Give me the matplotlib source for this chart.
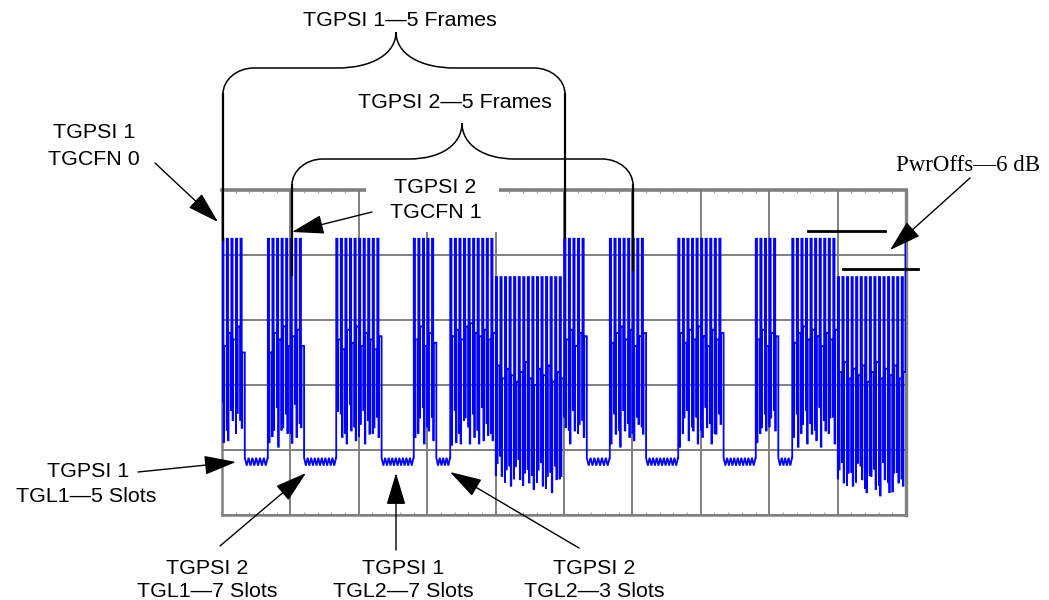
import numpy as np
import matplotlib.pyplot as plt
from matplotlib.path import Path
from matplotlib.patches import PathPatch, Rectangle, FancyArrowPatch

# power levels in screen divisions (0 = bottom line of the scope screen)
full_level = 4.25
offset_level = 3.66
gap_hi, gap_lo = 0.88, 0.76

slots_per_frame = 15
n_frames = 10
offset_frames = [4, 9]          # frames sent with PwrOffs applied

# transmission gaps (first slot, number of slots)
gap_start = [5, 18, 35, 47, 80, 93, 110, 122]
gap_len = [5, 7, 7, 3, 5, 7, 7, 3]

# depth of the falling stroke in every transmitted slot, one list per burst
deep_lows = [
    [1.12, 1.15, 1.46, 1.57, 1.34],
    [1.12, 1.31, 1.05, 1.35, 1.26, 1.11, 1.20, 1.35],
    [1.60, 1.20, 1.10, 1.30, 1.15, 1.40, 1.10, 1.25, 1.35, 1.20],
    [1.20, 1.50, 1.10, 1.30, 1.15],
    [1.08, 1.12, 1.10, 1.50, 1.10, 1.20, 1.10, 1.15, 1.23, 1.15,
     0.80, 0.60, 0.70, 0.45, 0.75, 0.55, 0.65, 0.50, 0.40, 0.70, 0.45, 0.60, 0.35, 0.55, 0.60],
    [1.35, 1.10, 1.30, 1.40, 1.20],
    [1.10, 1.25, 1.05, 1.30, 1.20, 1.15, 1.40, 1.25],
    [1.05, 1.50, 1.15, 1.30, 1.10, 1.20, 1.35, 1.10, 1.25, 1.40],
    [1.12, 1.35, 1.30, 1.50, 1.30],
    [1.20, 1.05, 1.40, 1.10, 1.25, 1.15, 1.05, 1.30, 1.50, 1.10,
     0.70, 0.50, 0.65, 0.45, 0.80, 0.55, 0.35, 0.60, 0.40, 0.30, 0.55, 0.35, 0.65, 0.50, 0.45],
]
# depth of the rising stroke in every transmitted slot
rise_lows = [
    [1.75, 1.30, 1.60, 1.25, 1.45],
    [1.45, 1.20, 1.65, 1.30, 1.55, 1.25, 1.70, 1.40],
    [1.30, 1.55, 1.25, 1.70, 1.35, 1.20, 1.60, 1.45, 1.25, 1.50],
    [1.40, 1.25, 1.65, 1.35, 1.50],
    [1.30, 1.60, 1.25, 1.45, 1.35, 1.55, 1.30, 1.65, 1.40, 1.25,
     0.60, 0.90, 0.50, 0.75, 0.55, 0.85, 0.45, 0.70, 0.60, 0.50, 0.80, 0.40, 0.65, 0.75, 0.55],
    [1.50, 1.30, 1.60, 1.25, 1.45],
    [1.35, 1.55, 1.30, 1.60, 1.40, 1.25, 1.50, 1.35],
    [1.40, 1.25, 1.60, 1.35, 1.50, 1.30, 1.65, 1.40, 1.25, 1.55],
    [1.45, 1.25, 1.55, 1.35, 1.60],
    [1.35, 1.55, 1.25, 1.60, 1.40, 1.30, 1.65, 1.45, 1.25, 1.50,
     0.55, 0.80, 0.45, 0.65, 0.50, 0.75, 0.40, 0.60, 0.70, 0.45, 0.80, 0.50, 0.35, 0.65, 0.55],
]
# level where the trace settles between strokes
shallow_lows = [
    [2.60, 2.80, 2.70, 2.90, 2.50],
    [2.50, 2.80, 2.70, 2.90, 2.60, 2.75, 2.85, 2.60],
    [2.70, 2.55, 2.85, 2.65, 2.90, 2.60, 2.80, 2.70, 2.55, 2.75],
    [2.70, 2.90, 2.60, 2.80, 2.65],
    [2.75, 2.85, 2.70, 2.90, 2.95, 2.80, 2.75, 2.85, 2.70, 2.80,
     2.30, 2.10, 2.25, 2.15, 2.05, 2.20, 2.35, 2.10, 2.00, 2.25, 2.15, 2.30, 2.05, 2.20, 2.10],
    [2.70, 2.85, 2.60, 2.80, 2.75],
    [2.65, 2.80, 2.90, 2.70, 2.85, 2.60, 2.75, 2.80],
    [2.80, 2.65, 2.85, 2.70, 2.90, 2.75, 2.60, 2.85, 2.70, 2.80],
    [2.70, 2.85, 2.60, 2.80, 2.75],
    [2.65, 2.80, 2.90, 2.70, 2.85, 2.75, 2.60, 2.80, 2.70, 2.85,
     2.20, 2.35, 2.10, 2.25, 2.15, 2.30, 2.05, 2.20, 2.35, 2.10, 2.25, 2.15, 2.30, 2.10, 2.20],
]

W, H = 1049, 600
blue = "#0000ff"
grid_gray = "#808080"
font = "Liberation Sans"


def build_trace():
    n_slots = slots_per_frame * n_frames
    deep = np.concatenate(deep_lows)
    rise = np.concatenate(rise_lows)
    shallow = np.concatenate(shallow_lows)
    xs, ys = [], []
    s, k = 0, 0
    while s < n_slots:
        if s in gap_start:
            n = gap_len[gap_start.index(s)]
            teeth = np.linspace(s, s + n, 2 * round(1.25 * n) + 1)
            xs += list(teeth)
            ys += [gap_hi if i % 2 == 0 else gap_lo for i in range(len(teeth))]
            s += n
            continue
        top = offset_level if s // slots_per_frame in offset_frames else full_level
        d, r, h = deep[k], rise[k], shallow[k]
        start = ys[-1] if ys else r
        a, b, c = s + 0.05, s + 0.32, s + 0.44
        xs += [a, a, a, b, b, c, c, s + 1]
        ys += [start, min(r, start), top, top, d, d, h, h]
        s += 1
        k += 1
    # last stroke at the right edge of the screen
    xs += [n_slots - 0.12, n_slots - 0.12]
    ys += [ys[-1], full_level]
    return np.array(xs), np.array(ys)


fig = plt.figure(figsize=(W / 100, H / 100), dpi=100)

# scope screen
ax = fig.add_axes([222 / W, (H - 515) / H, 684 / W, 325 / H])
x, y = build_trace()
ax.plot(x, y, color=blue, lw=1.3, solid_joinstyle="miter", zorder=3)
ax.set_xlim(0, slots_per_frame * n_frames)
ax.set_ylim(0, 5)
ax.set_xticks(np.arange(0, slots_per_frame * n_frames + 1, slots_per_frame))
ax.set_yticks(np.arange(0, 6))
ax.set_xticks(np.arange(0, slots_per_frame * n_frames + 1, 3), minor=True)
ax.grid(True, which="major", color=grid_gray, lw=1.4, zorder=1)
ax.tick_params(which="major", length=0, labelbottom=False, labelleft=False)
ax.tick_params(which="minor", direction="in", length=2.5, width=0.8, color="#a0a0a0",
               top=True, bottom=True, labelbottom=False)
for side, lw in [("top", 2.6), ("right", 2.4), ("left", 1.8), ("bottom", 1.8)]:
    ax.spines[side].set_color(grid_gray)
    ax.spines[side].set_linewidth(lw)

# annotation layer in pixel coordinates
ov = fig.add_axes([0, 0, 1, 1])
ov.set_xlim(0, W)
ov.set_ylim(H, 0)
ov.set_facecolor("none")
ov.axis("off")

# white box behind the TGCFN 1 label breaks the top border
ov.add_patch(Rectangle((366, 168), 133, 64, facecolor="white", edgecolor="none", zorder=1))


def brace(x_l, x_r, y_h, x_tip, y_tip, half, leg_l, leg_r, r=(31, 26)):
    rx, ry = r
    k = 0.55
    verts = [
        (x_l, y_h + ry), (x_l, y_h + ry * (1 - k)), (x_l + rx * (1 - k), y_h), (x_l + rx, y_h),
        (x_tip - half, y_h),
        (x_tip - half * 0.4, y_h), (x_tip, y_h - (y_h - y_tip) * 0.4), (x_tip, y_tip),
        (x_tip, y_h - (y_h - y_tip) * 0.4), (x_tip + half * 0.4, y_h), (x_tip + half, y_h),
        (x_r - rx, y_h),
        (x_r - rx * (1 - k), y_h), (x_r, y_h + ry * (1 - k)), (x_r, y_h + ry),
    ]
    codes = [Path.MOVETO, Path.CURVE4, Path.CURVE4, Path.CURVE4, Path.LINETO,
             Path.CURVE4, Path.CURVE4, Path.CURVE4, Path.CURVE4, Path.CURVE4, Path.CURVE4,
             Path.LINETO, Path.CURVE4, Path.CURVE4, Path.CURVE4]
    ov.add_patch(PathPatch(Path(verts, codes), facecolor="none", edgecolor="black",
                           lw=1.1, zorder=5))
    ov.plot([x_l, x_l], [y_h + ry, leg_l], color="black", lw=1.6, zorder=5)
    ov.plot([x_r, x_r], [y_h + ry, leg_r], color="black", lw=1.6, zorder=5)


brace(223, 565, 68, 396, 32, 59, 240, 238)
brace(292, 633, 159, 462, 123, 53, 275, 270)


def arrow(tail, tip):
    ov.add_patch(FancyArrowPatch(tail, tip, arrowstyle="-|>,head_length=20,head_width=6",
                                 mutation_scale=1, lw=1.0, color="black",
                                 shrinkA=0, shrinkB=0, zorder=6))


def label(xc, yc, txt, size=15.4, family=font):
    # yc is the middle of the capitals
    cap = 0.716 * size * 100 / 72
    ov.text(xc, yc + cap / 2, txt, ha="center", va="baseline", fontsize=size,
            family=family, zorder=7)


label(400, 18, "TGPSI 1\u20145 Frames")
label(455, 100, "TGPSI 2\u20145 Frames")
label(94, 130, "TGPSI 1")
label(94, 157, "TGCFN 0")
label(435, 185, "TGPSI 2")
label(436, 210, "TGCFN 1")
label(88, 469, "TGPSI 1")
label(86, 494, "TGL1\u20145 Slots")
label(207, 566, "TGPSI 2")
label(207, 589, "TGL1\u20147 Slots")
label(403, 566, "TGPSI 1")
label(403, 589, "TGL2\u20147 Slots")
label(594, 566, "TGPSI 2")
label(594, 589, "TGL2\u20143 Slots")
ov.text(968, 171, "PwrOffs\u20146 dB", ha="center", va="baseline", fontsize=16.5,
        family="Liberation Serif", zorder=7)

arrow((155, 163), (218, 222))
arrow((372, 212), (292, 232))
arrow((970, 178), (890, 250))
arrow((138, 472), (236, 462))
arrow((220, 546), (306, 473))
arrow((396, 550), (396, 473))
arrow((579, 548), (450, 472))

# PwrOffs reference lines
ov.plot([808, 885], [231, 231], color="black", lw=2.0, zorder=5)
ov.plot([843, 918], [269, 269], color="black", lw=2.0, zorder=5)

fig.savefig("out.png", dpi=100)
